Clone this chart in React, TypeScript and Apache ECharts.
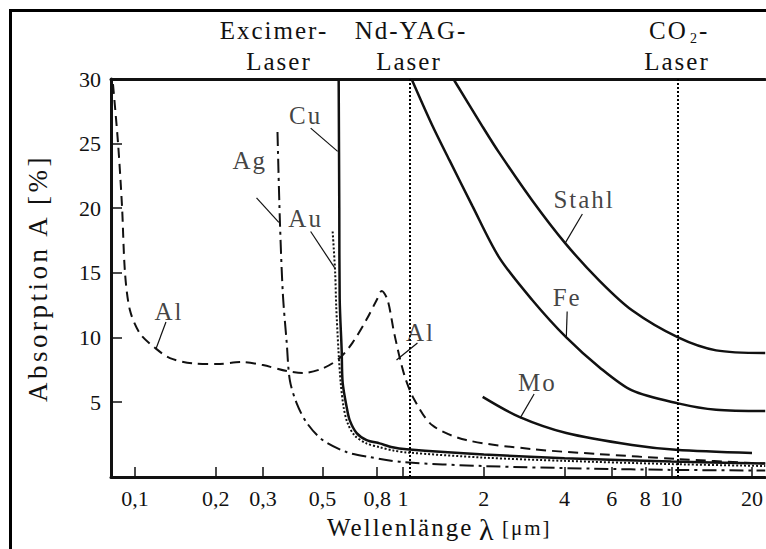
import React, { useEffect, useRef } from "react";
import * as echarts from "echarts";

// wavelength in µm, absorption in %
const xTicks = [0.1, 0.2, 0.3, 0.5, 0.8, 1, 2, 4, 6, 8, 10, 20];
const yTicks = [5, 10, 15, 20, 25, 30];
const laserLines = [1.06, 10.6];

const alData = [
  [0.0828, 29.6], [0.0865, 25.0], [0.0895, 20.1], [0.0918, 15.0], [0.0958, 12.1],
  [0.1044, 10.3], [0.1187, 9.2], [0.135, 8.4], [0.164, 8.0], [0.202, 7.94],
  [0.252, 8.1], [0.3, 7.86], [0.368, 7.4], [0.422, 7.25], [0.501, 7.6],
  [0.58, 8.4], [0.648, 9.6], [0.731, 11.4], [0.797, 12.9], [0.832, 13.6],
  [0.875, 12.9], [0.929, 10.2], [1.01, 7.1], [1.1, 5.2], [1.285, 3.2],
  [1.72, 2.06], [3.03, 1.36], [5.39, 0.97], [10.4, 0.6], [20, 0.28], [22.4, 0.24],
];
const agData = [
  [0.34, 25.9], [0.347, 19.1], [0.356, 13.4], [0.368, 9.6], [0.378, 6.7],
  [0.401, 4.9], [0.437, 3.4], [0.501, 2.06], [0.615, 1.13], [0.75, 0.74],
  [0.995, 0.36], [1.98, 0.05], [5, -0.15], [10, -0.25], [22.4, -0.3],
];
const cuData = [
  [0.575, 30], [0.578, 20], [0.58, 13], [0.59, 9], [0.595, 6.5], [0.616, 4.6],
  [0.632, 3.6], [0.671, 2.6], [0.731, 2.06], [0.817, 1.8], [0.913, 1.5],
  [1.03, 1.35], [2, 0.95], [4, 0.65], [10, 0.4], [22.4, 0.25],
];
const auData = [
  [0.546, 18.2], [0.558, 15], [0.563, 12.4], [0.574, 9], [0.585, 6.5],
  [0.6, 4.6], [0.62, 3.4], [0.66, 2.4], [0.73, 1.8], [0.82, 1.5],
  [0.92, 1.25], [1.03, 1.1], [2, 0.7], [4, 0.45], [10, 0.2], [22.4, 0.05],
];
const feData = [
  [1.075, 30], [1.285, 26.4], [1.49, 23.7], [1.81, 20.2], [2.28, 16.2],
  [3.03, 12.9], [4.06, 10.0], [5.39, 7.7], [7.14, 5.9], [10.6, 4.9],
  [14.7, 4.4], [22.4, 4.3],
];
const stahlData = [
  [1.54, 30], [1.98, 26.3], [2.28, 24.3], [3.03, 20.6], [4.02, 17.3],
  [5.39, 14.4], [7.14, 12.1], [10.6, 10.0], [14.7, 9.0], [22.4, 8.8],
];
const moData = [
  [1.98, 5.4], [2.71, 3.85], [4.06, 2.6], [7.14, 1.67], [10.4, 1.3], [20, 1.05],
];

// curve labels: text, label position, leader line start/end (data coords)
const annotations = [
  { text: "Al", at: [0.134, 12.0], from: [0.1305, 11.2], to: [0.1197, 9.1] },
  { text: "Ag", at: [0.268, 23.7], from: [0.284, 20.8], to: [0.344, 18.9] },
  { text: "Au", at: [0.433, 19.2], from: [0.452, 18.2], to: [0.555, 15.4] },
  { text: "Cu", at: [0.433, 27.2], from: [0.452, 26.2], to: [0.57, 24.4] },
  { text: "Al", at: [1.161, 10.4], from: [1.131, 9.57], to: [0.945, 8.25] },
  { text: "Stahl", at: [4.73, 20.7], from: [4.66, 19.55], to: [4.02, 17.3] },
  { text: "Fe", at: [4.09, 13.1], from: [4.09, 12.0], to: [4.06, 10.0] },
  { text: "Mo", at: [3.17, 6.55], from: [3.08, 5.62], to: [2.73, 3.76] },
];

const FONT = "Liberation Serif";
const INK = "#111";

export default function App() {
  const ref = useRef<HTMLDivElement>(null);
  useEffect(() => {
    if (!ref.current) return;
    const chart = echarts.init(ref.current, undefined, { renderer: "svg" });
    const curve = (name: string, data: number[][], type: any, width: number) => ({
      name,
      type: "line",
      data,
      symbol: "none",
      smooth: 0.3,
      silent: true,
      lineStyle: { color: INK, width, type },
      z: 3,
    });
    const txt = (text: string, x: number, y: number, size: number, align = "center") => ({
      type: "text",
      x,
      y,
      silent: true,
      style: {
        text,
        font: `${size}px "${FONT}"`,
        fill: INK,
        align,
        verticalAlign: "middle",
      },
    });
    const logX = { type: "log", logBase: 10, min: 0.0814, max: 22.35 };
    chart.setOption({
      animation: false,
      backgroundColor: "#fff",
      grid: { left: 111, right: 0, top: 79, bottom: 72 },
      xAxis: [
        {
          ...logX,
          position: "bottom",
          axisLine: { show: true, onZero: false, lineStyle: { color: INK, width: 3 } },
          axisTick: {
            show: true,
            inside: true,
            length: 10,
            customValues: xTicks,
            lineStyle: { color: INK, width: 1.5 },
          },
          minorTick: { show: false },
          axisLabel: {
            customValues: xTicks,
            margin: 10,
            fontFamily: FONT,
            fontSize: 22,
            color: INK,
            formatter: (v: number) => String(v).replace(".", ","),
          },
          splitLine: { show: false },
        },
        {
          ...logX,
          position: "top",
          axisLine: { show: true, onZero: false, lineStyle: { color: INK, width: 3 } },
          axisTick: { show: false },
          axisLabel: { show: false },
          splitLine: { show: false },
        },
      ],
      yAxis: {
        type: "value",
        min: -0.8,
        max: 30,
        name: "Absorption A [%]",
        nameLocation: "middle",
        nameRotate: 90,
        nameGap: 60,
        nameTextStyle: { fontFamily: FONT, fontSize: 27, color: INK },
        axisLine: { show: true, onZero: false, lineStyle: { color: INK, width: 3 } },
        axisTick: {
          show: true,
          inside: true,
          length: 11,
          customValues: yTicks,
          lineStyle: { color: INK, width: 1.5 },
        },
        axisLabel: {
          customValues: yTicks,
          margin: 10,
          fontFamily: FONT,
          fontSize: 22,
          color: INK,
        },
        splitLine: { show: false },
      },
      graphic: [
        {
          type: "rect",
          shape: { x: 10.5, y: 10.5, width: 800, height: 600 },
          style: { fill: "none", stroke: "#000", lineWidth: 3 },
          silent: true,
        },
        txt("Excimer-", 274, 30, 25),
        txt("Laser", 279, 61, 25),
        txt("Nd-YAG-", 411, 30, 25),
        txt("Laser", 409, 61, 25),
        txt("CO", 649, 30, 25, "left"),
        txt("2", 690, 38, 14, "left"),
        txt("-", 699, 30, 25, "left"),
        txt("Laser", 677, 61, 25),
        txt("Wellenlänge", 327, 527, 25, "left"),
        txt("λ", 479, 529, 30, "left"),
        txt("[μm]", 502, 528, 21, "left"),
      ],
      series: [
        curve("Al", alData, [10, 6], 2),
        curve("Ag", agData, [14, 5, 3, 5], 2),
        curve("Au", auData, [2, 2], 2),
        curve("Cu", cuData, "solid", 2.5),
        curve("Fe", feData, "solid", 2.5),
        curve("Stahl", stahlData, "solid", 2.5),
        curve("Mo", moData, "solid", 2.5),
        {
          name: "Laser",
          type: "line",
          data: [],
          silent: true,
          markLine: {
            symbol: "none",
            silent: true,
            label: { show: false },
            lineStyle: { color: "#000", width: 2, type: [2, 2] },
            data: laserLines.map((v) => ({ xAxis: v })),
          },
        },
        {
          name: "leaders",
          type: "lines",
          coordinateSystem: "cartesian2d",
          silent: true,
          lineStyle: { color: INK, width: 1.2, opacity: 1 },
          data: annotations.map((a) => ({ coords: [a.from, a.to] })),
          z: 4,
        },
        {
          name: "labels",
          type: "scatter",
          symbolSize: 0,
          silent: true,
          data: annotations.map((a) => ({ value: a.at, name: a.text })),
          label: {
            show: true,
            position: [0, 0],
            align: "center",
            verticalAlign: "middle",
            formatter: (p: any) => p.name,
            fontFamily: FONT,
            fontSize: 25,
            color: INK,
          },
          z: 5,
        },
      ],
    });
    return () => chart.dispose();
  }, []);
  return (
    <>
      <style>{`
        #chartbox text[style*="25px"], #chartbox text[style*="21px"] { letter-spacing: 2px; }
        #chartbox text[style*="27px"] { letter-spacing: 3.5px; }
      `}</style>
      <div
        id="chartbox"
        ref={ref}
        style={{ position: "absolute", left: 0, top: 0, width: 766, height: 549 }}
      />
    </>
  );
}
